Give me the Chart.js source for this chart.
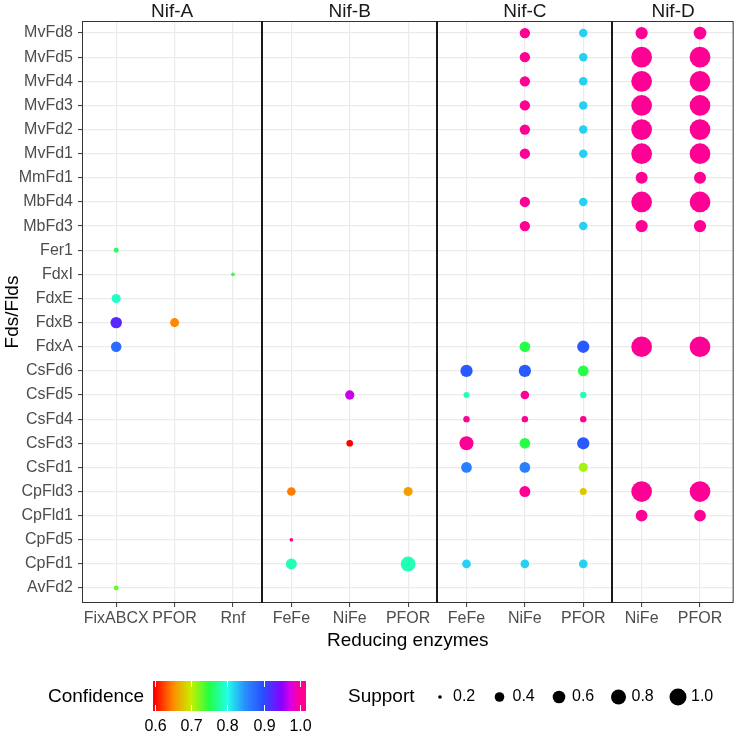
<!DOCTYPE html>
<html lang="en">
  <head>
    <meta charset="UTF-8" />
    <title>Fds/Flds vs reducing enzymes</title>
    <script src="https://cdn.jsdelivr.net/npm/chart.js"></script>
    <style>
      body { margin: 0; background: #fff; }
    </style>
  </head>
  <body>
    <canvas id="dotChart" width="744" height="734"></canvas>

    <script>
      // rows, bottom to top
      const fds = [
        "AvFd2", "CpFd1", "CpFd5", "CpFld1", "CpFld3", "CsFd1", "CsFd3", "CsFd4",
        "CsFd5", "CsFd6", "FdxA", "FdxB", "FdxE", "FdxI", "Fer1", "MbFd3",
        "MbFd4", "MmFd1", "MvFd1", "MvFd2", "MvFd3", "MvFd4", "MvFd5", "MvFd8",
      ];
      const facetNames = ["Nif-A", "Nif-B", "Nif-C", "Nif-D"];
      const facetEnzymes = [
        ["FixABCX", "PFOR", "Rnf"],
        ["FeFe", "NiFe", "PFOR"],
        ["FeFe", "NiFe", "PFOR"],
        ["NiFe", "PFOR"],
      ];

      // [enzyme, fd, confidence, support]
      const nifA = [
        ["FixABCX", "Fer1", 0.76, 0.22],
        ["FixABCX", "FdxE", 0.79, 0.37],
        ["FixABCX", "FdxB", 0.925, 0.51],
        ["FixABCX", "FdxA", 0.875, 0.45],
        ["FixABCX", "AvFd2", 0.73, 0.22],
        ["PFOR", "FdxB", 0.65, 0.37],
        ["Rnf", "FdxI", 0.745, 0.2],
      ];
      const nifB = [
        ["FeFe", "CpFld3", 0.645, 0.35],
        ["FeFe", "CpFd5", 1.0, 0.2],
        ["FeFe", "CpFd1", 0.785, 0.48],
        ["NiFe", "CsFd5", 0.97, 0.38],
        ["NiFe", "CsFd3", 0.6, 0.27],
        ["PFOR", "CpFld3", 0.66, 0.37],
        ["PFOR", "CpFd1", 0.785, 0.78],
      ];
      const nifC = [
        ["FeFe", "CsFd6", 0.89, 0.57],
        ["FeFe", "CsFd5", 0.785, 0.25],
        ["FeFe", "CsFd4", 1.0, 0.26],
        ["FeFe", "CsFd3", 1.0, 0.71],
        ["FeFe", "CsFd1", 0.86, 0.46],
        ["FeFe", "CpFd1", 0.82, 0.35],
        ["NiFe", "MvFd8", 1.0, 0.44],
        ["NiFe", "MvFd5", 1.0, 0.44],
        ["NiFe", "MvFd4", 1.0, 0.44],
        ["NiFe", "MvFd3", 1.0, 0.44],
        ["NiFe", "MvFd2", 1.0, 0.44],
        ["NiFe", "MvFd1", 1.0, 0.44],
        ["NiFe", "MbFd4", 1.0, 0.44],
        ["NiFe", "MbFd3", 1.0, 0.44],
        ["NiFe", "FdxA", 0.75, 0.46],
        ["NiFe", "CsFd6", 0.89, 0.57],
        ["NiFe", "CsFd5", 1.0, 0.35],
        ["NiFe", "CsFd4", 1.0, 0.26],
        ["NiFe", "CsFd3", 0.75, 0.46],
        ["NiFe", "CsFd1", 0.86, 0.46],
        ["NiFe", "CpFld3", 1.0, 0.48],
        ["NiFe", "CpFd1", 0.82, 0.35],
        ["PFOR", "MvFd8", 0.82, 0.34],
        ["PFOR", "MvFd5", 0.82, 0.34],
        ["PFOR", "MvFd4", 0.82, 0.34],
        ["PFOR", "MvFd3", 0.82, 0.34],
        ["PFOR", "MvFd2", 0.82, 0.34],
        ["PFOR", "MvFd1", 0.82, 0.34],
        ["PFOR", "MbFd4", 0.82, 0.34],
        ["PFOR", "MbFd3", 0.82, 0.34],
        ["PFOR", "FdxA", 0.89, 0.57],
        ["PFOR", "CsFd6", 0.75, 0.46],
        ["PFOR", "CsFd5", 0.785, 0.26],
        ["PFOR", "CsFd4", 1.0, 0.26],
        ["PFOR", "CsFd3", 0.89, 0.57],
        ["PFOR", "CsFd1", 0.71, 0.37],
        ["PFOR", "CpFld3", 0.68, 0.28],
        ["PFOR", "CpFd1", 0.82, 0.35],
      ];
      const nifD = [
        ["NiFe", "MvFd8", 1.0, 0.57],
        ["NiFe", "MvFd5", 1.0, 1.45],
        ["NiFe", "MvFd4", 1.0, 1.45],
        ["NiFe", "MvFd3", 1.0, 1.45],
        ["NiFe", "MvFd2", 1.0, 1.45],
        ["NiFe", "MvFd1", 1.0, 1.45],
        ["NiFe", "MmFd1", 1.0, 0.55],
        ["NiFe", "MbFd4", 1.0, 1.45],
        ["NiFe", "MbFd3", 1.0, 0.57],
        ["NiFe", "FdxA", 1.0, 1.45],
        ["NiFe", "CpFld3", 1.0, 1.45],
        ["NiFe", "CpFld1", 1.0, 0.53],
        ["PFOR", "MvFd8", 1.0, 0.6],
        ["PFOR", "MvFd5", 1.0, 1.45],
        ["PFOR", "MvFd4", 1.0, 1.45],
        ["PFOR", "MvFd3", 1.0, 1.45],
        ["PFOR", "MvFd2", 1.0, 1.45],
        ["PFOR", "MvFd1", 1.0, 1.45],
        ["PFOR", "MmFd1", 1.0, 0.55],
        ["PFOR", "MbFd4", 1.0, 1.45],
        ["PFOR", "MbFd3", 1.0, 0.57],
        ["PFOR", "FdxA", 1.0, 1.45],
        ["PFOR", "CpFld3", 1.0, 1.45],
        ["PFOR", "CpFld1", 1.0, 0.53],
      ];

      const confidenceTicks = [0.6, 0.7, 0.8, 0.9, 1.0];
      const supportTicks = [0.2, 0.4, 0.6, 0.8, 1.0];

      const FONT = "'Liberation Sans', Arial, Helvetica, sans-serif";

      // rainbow colour scale for confidence
      const rainbow = [
        [0.6, [255, 0, 0]],
        [0.65, [255, 138, 0]],
        [0.7, [198, 240, 0]],
        [0.75, [34, 255, 68]],
        [0.8, [34, 255, 232]],
        [0.85, [42, 140, 255]],
        [0.9, [42, 76, 255]],
        [0.95, [136, 0, 255]],
        [0.975, [220, 0, 230]],
        [1.0, [255, 0, 149]],
      ];
      function confColour(v) {
        if (v <= rainbow[0][0]) return `rgb(${rainbow[0][1].join(",")})`;
        for (let i = 1; i < rainbow.length; i++) {
          const [v1, c1] = rainbow[i];
          const [v0, c0] = rainbow[i - 1];
          if (v <= v1) {
            const t = (v - v0) / (v1 - v0);
            const c = c0.map((a, k) => Math.round(a + (c1[k] - a) * t));
            return `rgb(${c.join(",")})`;
          }
        }
        return `rgb(${rainbow[rainbow.length - 1][1].join(",")})`;
      }
      // area-style size scale (diameter in px)
      function supportRadius(s) {
        const t = Math.max(0, (s - 0.19) / 0.81);
        return (2 + 15 * Math.sqrt(t)) / 2;
      }

      const xLabels = facetEnzymes.flat();
      const facetData = [nifA, nifB, nifC, nifD];
      const points = [];
      let colStart = 0;
      facetEnzymes.forEach((enz, f) => {
        facetData[f].forEach(([e, fd, conf, sup]) => {
          points.push({ x: colStart + enz.indexOf(e), y: fds.indexOf(fd), conf, sup });
        });
        colStart += enz.length;
      });

      const decor = {
        id: "decor",
        afterDatasetsDraw(chart) {
          const { ctx, chartArea: a, scales } = chart;
          const x = scales.x;
          ctx.save();
          // panel border
          ctx.strokeStyle = "#333333";
          ctx.lineWidth = 1;
          ctx.strokeRect(a.left + 0.5, a.top + 0.5, a.width - 1, a.height - 1);
          // facet separators + strip labels
          let col = 0;
          ctx.font = `19px ${FONT}`;
          ctx.fillStyle = "#1a1a1a";
          ctx.textAlign = "center";
          ctx.textBaseline = "middle";
          facetEnzymes.forEach((enz, f) => {
            const lo = f === 0 ? x.min : col - 0.5;
            const hi = f === facetEnzymes.length - 1 ? x.max : col + enz.length - 0.5;
            const cx = (x.getPixelForValue(lo) + x.getPixelForValue(hi)) / 2;
            ctx.fillText(facetNames[f], cx, 12);
            if (f < facetEnzymes.length - 1) {
              const px = Math.round(x.getPixelForValue(hi));
              ctx.strokeStyle = "#1a1a1a";
              ctx.lineWidth = 2;
              ctx.beginPath();
              ctx.moveTo(px, a.top);
              ctx.lineTo(px, a.bottom);
              ctx.stroke();
            }
            col += enz.length;
          });
          ctx.restore();
        },
        afterDraw(chart) {
          const ctx = chart.ctx;
          ctx.save();
          const cy = 697;
          // Confidence colour bar
          ctx.fillStyle = "#000";
          ctx.textBaseline = "middle";
          ctx.textAlign = "left";
          ctx.font = `19px ${FONT}`;
          ctx.fillText("Confidence", 48, cy);
          const barL = 153, barR = 306, barT = 681, barB = 711;
          const vMin = 0.595, vMax = 1.017;
          for (let px = barL; px < barR; px++) {
            const v = vMin + ((px + 0.5 - barL) / (barR - barL)) * (vMax - vMin);
            ctx.fillStyle = confColour(v);
            ctx.fillRect(px, barT, 1, barB - barT);
          }
          ctx.font = `16px ${FONT}`;
          ctx.textAlign = "center";
          confidenceTicks.forEach((t) => {
            const px = Math.round(barL + ((t - vMin) / (vMax - vMin)) * (barR - barL)) + 0.5;
            ctx.strokeStyle = "#fff";
            ctx.lineWidth = 1;
            ctx.beginPath();
            ctx.moveTo(px, barT); ctx.lineTo(px, barT + 6);
            ctx.moveTo(px, barB - 6); ctx.lineTo(px, barB);
            ctx.stroke();
            ctx.fillStyle = "#000";
            ctx.fillText(t.toFixed(1), px, 727);
          });
          // Support size legend
          ctx.textAlign = "left";
          ctx.font = `19px ${FONT}`;
          ctx.fillText("Support", 348, cy);
          ctx.font = `16px ${FONT}`;
          supportTicks.forEach((s, i) => {
            const kx = 440 + i * 59.5;
            ctx.fillStyle = "#000";
            ctx.beginPath();
            ctx.arc(kx, cy, supportRadius(s), 0, Math.PI * 2);
            ctx.fill();
            ctx.fillText(s.toFixed(1), kx + 13, cy);
          });
          ctx.restore();
        },
      };

      const ctx = document.getElementById("dotChart").getContext("2d");
      new Chart(ctx, {
        type: "scatter",
        data: {
          datasets: [
            {
              data: points,
              pointRadius: (c) => supportRadius(c.raw.sup),
              pointHoverRadius: (c) => supportRadius(c.raw.sup),
              backgroundColor: (c) => confColour(c.raw.conf),
              borderWidth: 0,
            },
          ],
        },
        options: {
          responsive: false,
          animation: false,
          events: [],
          layout: { padding: { top: 21, right: 4, bottom: 80, left: 0 } },
          plugins: { legend: { display: false }, tooltip: { enabled: false } },
          scales: {
            x: {
              type: "linear",
              min: -0.586,
              max: 10.576,
              afterBuildTicks: (s) => {
                s.ticks = xLabels.map((_, i) => ({ value: i }));
              },
              afterFit: (s) => {
                s.height = 51;
              },
              ticks: {
                callback: (v, i) => xLabels[i],
                autoSkip: false,
                maxRotation: 0,
                color: "#4d4d4d",
                font: { family: FONT, size: 16 },
                padding: 2,
              },
              grid: { color: "#ebebeb", lineWidth: 1.2, tickLength: 4, tickColor: "#333333", tickWidth: 1 },
              border: { display: false },
              title: {
                display: true,
                text: "Reducing enzymes",
                color: "#000",
                font: { family: FONT, size: 19 },
                padding: { top: 0, bottom: 2 },
              },
            },
            y: {
              type: "linear",
              min: -0.62,
              max: 23.5,
              afterBuildTicks: (s) => {
                s.ticks = fds.map((_, i) => ({ value: i }));
              },
              afterFit: (s) => {
                s.width = 82;
              },
              ticks: {
                callback: (v, i) => fds[i],
                autoSkip: false,
                color: "#4d4d4d",
                font: { family: FONT, size: 16 },
                padding: 5,
              },
              grid: { color: "#ebebeb", lineWidth: 1.2, tickLength: 4, tickColor: "#333333", tickWidth: 1 },
              border: { display: false },
              title: {
                display: true,
                text: "Fds/Flds",
                color: "#000",
                font: { family: FONT, size: 19 },
                padding: { top: 1, bottom: 0 },
              },
            },
          },
        },
        plugins: [decor],
      });
    </script>
  </body>
</html>
